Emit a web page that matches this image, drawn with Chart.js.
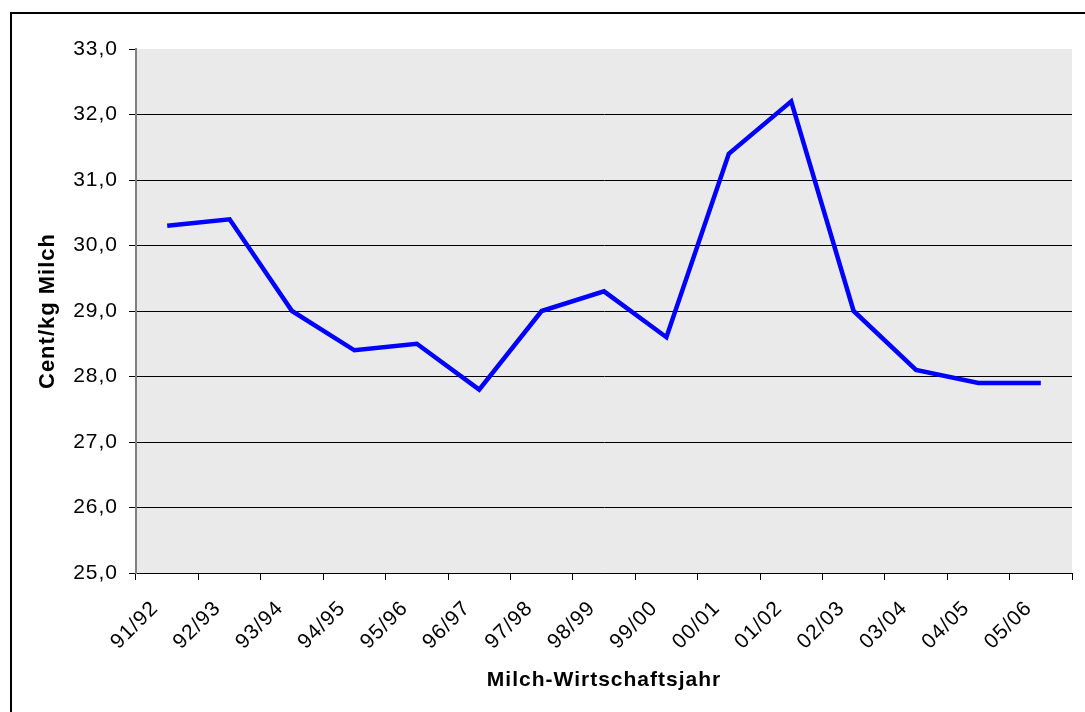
<!DOCTYPE html>
<html>
<head>
<meta charset="utf-8">
<title>Milchpreis</title>
<script src="https://cdn.jsdelivr.net/npm/chart.js@4/dist/chart.umd.min.js"></script>
<style>
  html, body { margin: 0; padding: 0; background: #fff; }
  canvas { display: block; }
</style>
</head>
<body>
<canvas id="milkChart" width="1085" height="712"></canvas>
<script>
const years = ["91/92", "92/93", "93/94", "94/95", "95/96", "96/97", "97/98", "98/99",
  "99/00", "00/01", "01/02", "02/03", "03/04", "04/05", "05/06"];
const centPerKg = [30.3, 30.4, 29.0, 28.4, 28.5, 27.8, 29.0, 29.3,
  28.6, 31.4, 32.2, 29.0, 28.1, 27.9, 27.9];
const yMin = 25;
const yMax = 33;

// frame round the chart and the grey plot area
const framePlugin = {
  id: "frameAndPlotBg",
  beforeDraw: (chart) => {
    const { ctx, chartArea } = chart;
    ctx.letterSpacing = "1px";
    ctx.save();
    ctx.fillStyle = "#EAEAEA";
    ctx.fillRect(chartArea.left, chartArea.top, chartArea.right - chartArea.left, chartArea.bottom - chartArea.top);
    ctx.strokeStyle = "#000";
    ctx.lineWidth = 2;
    ctx.strokeRect(11, 13, 2000, 2000);
    ctx.restore();
  },
};

const ctx = document.getElementById("milkChart").getContext("2d");
new Chart(ctx, {
  type: "line",
  data: {
    labels: years,
    datasets: [
      {
        data: centPerKg,
        borderColor: "#0000FF",
        borderWidth: 4.5,
        pointRadius: 0,
        tension: 0,
        fill: false,
      },
    ],
  },
  options: {
    responsive: false,
    animation: false,
    layout: { padding: { top: 49, right: 13, left: 0, bottom: 0 } },
    plugins: {
      legend: { display: false },
      tooltip: { enabled: false },
    },
    scales: {
      x: {
        offset: true,
        grid: {
          offset: true,
          drawOnChartArea: false,
          tickLength: 7,
          tickColor: "#000",
        },
        border: { color: "#000", width: 1 },
        ticks: {
          color: "#000",
          font: { family: "Liberation Sans, Arial", size: 21 },
          minRotation: 45,
          maxRotation: 45,
          padding: 16,
          labelOffset: -12,
        },
        title: {
          display: true,
          text: "Milch-Wirtschaftsjahr",
          color: "#000",
          font: { family: "Liberation Sans, Arial", size: 21, weight: "bold" },
          padding: { top: 0, bottom: 19 },
        },
        afterFit: (scale) => { scale.height = 139; },
      },
      y: {
        min: yMin,
        max: yMax,
        grid: {
          color: (c) => (c.tick && c.tick.value === yMax ? "rgba(0,0,0,0)" : "#000"),
          tickColor: "#000",
          tickLength: 7,
        },
        border: { color: "#808080", width: 2 },
        ticks: {
          stepSize: 1,
          color: "#000",
          padding: 11,
          font: { family: "Liberation Sans, Arial", size: 21 },
          callback: (v) => v.toFixed(1).replace(".", ","),
        },
        title: {
          display: true,
          text: "Cent/kg Milch",
          color: "#000",
          font: { family: "Liberation Sans, Arial", size: 22, weight: "bold" },
          padding: { top: 35, bottom: 0 },
        },
        afterFit: (scale) => { scale.width = 136; },
      },
    },
  },
  plugins: [framePlugin],
});
</script>
</body>
</html>
